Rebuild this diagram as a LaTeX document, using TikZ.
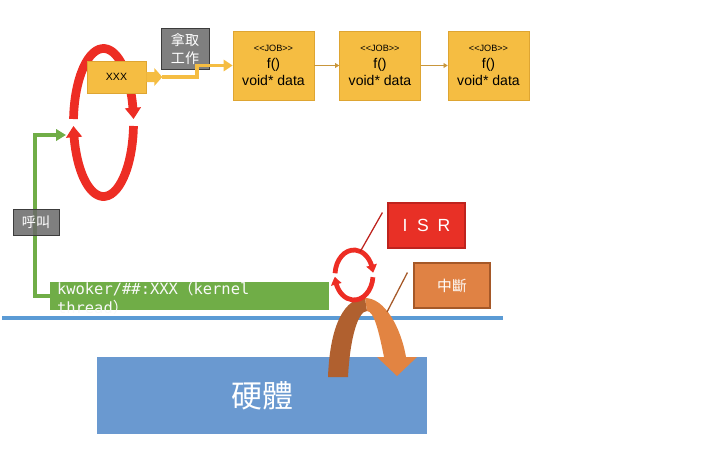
\documentclass[tikz,border=0pt]{standalone}
\usepackage{fontspec}
\setmainfont{Liberation Sans}
\setmonofont{DejaVu Sans Mono}
\newfontfamily\cjk{Noto Sans CJK TC}
\usetikzlibrary{arrows.meta,bending,calc,positioning}
\definecolor{jobYellow}{RGB}{245,189,66}
\definecolor{jobEdge}{RGB}{222,165,50}
\definecolor{jobLink}{RGB}{200,150,60}
\definecolor{loopRed}{RGB}{237,45,36}
\definecolor{boxGray}{RGB}{105,105,105}
\definecolor{edgeGray}{RGB}{60,60,60}
\definecolor{kwGreen}{RGB}{112,173,71}
\definecolor{lineBlue}{RGB}{91,155,213}
\definecolor{hwBlue}{RGB}{106,153,208}
\definecolor{isrRed}{RGB}{232,48,38}
\definecolor{isrEdge}{RGB}{190,35,30}
\definecolor{irqOrange}{RGB}{224,130,68}
\definecolor{irqEdge}{RGB}{165,88,40}
\definecolor{bendDark}{RGB}{176,96,47}
\definecolor{bendLight}{RGB}{226,132,66}
\newlength{\pxu}
\setlength{\pxu}{0.025cm}
\tikzset{
  jobbox/.style={draw=jobEdge, fill=jobYellow, minimum width=81\pxu, minimum height=69\pxu,
    align=center, inner sep=0pt, font=\fontsize{10}{12}\selectfont},
  graybox/.style={draw=edgeGray, fill=boxGray, fill opacity=0.85, text opacity=1, text=white,
    align=center, inner sep=0pt, font=\cjk\fontsize{10}{12.5}\selectfont},
  tagbox/.style={text=white, inner sep=0pt, align=center},
  bigloop/.style={loopRed, line width=6.2pt, -{Triangle[width=11pt,length=8pt,bend]}},
  smallloop/.style={loopRed, line width=3.4pt, -{Triangle[width=7.5pt,length=5.5pt,bend]}},
  jlink/.style={jobLink, line width=0.6pt, -{Triangle[width=3.5pt,length=3pt]}}
}
\begin{document}
\begin{tikzpicture}[x=1\pxu, y=-1\pxu]
    \useasboundingbox (0,0) rectangle (720,460);

    % Big loop
    \draw[bigloop] (103.5,122.5) ++(182.7:30 and 74)
        arc[start angle=182.7, end angle=357.3, x radius=30, y radius=74];
    \draw[bigloop] (103.5,122.5) ++(2.7:30 and 74)
        arc[start angle=2.7, end angle=177.3, x radius=30, y radius=74];
    \coordinate (loopin) at (66,135);

    % Worker and jobs
    \node[draw=jobEdge, fill=jobYellow, minimum width=59\pxu, minimum height=32\pxu,
        inner sep=0pt, font=\fontsize{7.5}{9}\selectfont] (xxx) at (116.5,77) {XXX};
    \fill[jobYellow] (xxx.east) ++(0,-5) -- ++(8,0) -- ++(0,-4) -- ++(8,9)
        -- ++(-8,9) -- ++(0,-4) -- ++(-8,0) -- cycle;
    \coordinate (xtip) at ($(xxx.east)+(16,0)$);

    \node[jobbox] (job1) at (273.5,65.5) {{\fontsize{6.5}{8}\selectfont <{}<JOB>{}>}\\f()\\void* data};
    \node[jobbox] (job2) at (380,65.5) {{\fontsize{6.5}{8}\selectfont <{}<JOB>{}>}\\f()\\void* data};
    \node[jobbox] (job3) at (488.5,65.5) {{\fontsize{6.5}{8}\selectfont <{}<JOB>{}>}\\f()\\void* data};
    \draw[jlink] (job1) -- (job2);
    \draw[jlink] (job2) -- (job3);

    \node[graybox, minimum width=48\pxu, minimum height=41\pxu] (take) at (185,49) {拿取\\工作};
    \draw[jobYellow, line width=2.8pt, -{Triangle[width=8pt,length=6.5pt]}]
        (xtip) -- ++(35,0) |- (job1.west);

    % Kernel thread
    \node[fill=kwGreen, minimum width=279\pxu, minimum height=28\pxu, inner sep=0pt] (kw) at (189.5,296) {};
    \node[anchor=north west, text=white!95!gray, align=left, inner sep=0pt,
        font=\ttfamily\fontsize{11}{13.5}\selectfont] (kwlabel) at ($(kw.north west)+(7,-1)$)
        {kwoker/\#\#:XXX{\cjk （}kernel\\thread{\cjk ）}};
    \draw[kwGreen, line width=2.8pt, -{Triangle[width=8pt,length=7pt]}]
        (kw.west) -- ++(-15,0) |- (loopin);
    \node[graybox, minimum width=46\pxu, minimum height=26\pxu] (call) at (36,222) {呼叫};

    % Divider
    \draw[lineBlue, line width=2.8pt] (2,318) -- (503,318);

    % Hardware
    \node[fill=hwBlue, minimum width=330\pxu, minimum height=77\pxu, text=white,
        font=\cjk\fontsize{22}{26}\selectfont] (hw) at (262,395.5) {硬體};

    % Interrupt arrow
    \fill[bendDark] (328,377) .. controls (330,322) and (346,298) .. (365,298)
        -- (367,311) .. controls (358,311) and (350,338) .. (348,377) -- cycle;
    \fill[bendLight] (365,298) .. controls (385,298) and (401,328) .. (406,357)
        -- (417,357) -- (397,376) -- (377,357) -- (384,357)
        .. controls (379,332) and (374,311) .. (367,311) -- cycle;

    % Small loop
    \draw[smallloop] (354,275) ++(184:19 and 25)
        arc[start angle=184, end angle=355, x radius=19, y radius=25];
    \draw[smallloop] (354,275) ++(5:19 and 25)
        arc[start angle=5, end angle=176, x radius=19, y radius=25];

    % ISR and interrupt labels
    \node[draw=isrEdge, line width=0.8pt, fill=isrRed, minimum width=77\pxu, minimum height=45\pxu,
        tagbox, font=\fontsize{12.5}{15}\selectfont] (isr) at (426.5,225.5) {I\hspace{0.55em}S\hspace{0.5em}R};
    \node[draw=irqEdge, line width=0.8pt, fill=irqOrange, minimum width=76\pxu, minimum height=45\pxu,
        tagbox, font=\cjk\fontsize{10.5}{13}\selectfont] (irq) at (452,285.5) {中斷};
    \coordinate (isrfrom) at ($(isr.west)+(-5,-13)$);
    \coordinate (isrto) at (360,252);
    \coordinate (irqfrom) at ($(irq.west)+(-6,-13)$);
    \coordinate (irqto) at (387,312);
    \draw[isrEdge, line width=0.9pt] (isrfrom) -- (isrto);
    \draw[irqEdge, line width=0.9pt] (irqfrom) -- (irqto);
\end{tikzpicture}
\end{document}
